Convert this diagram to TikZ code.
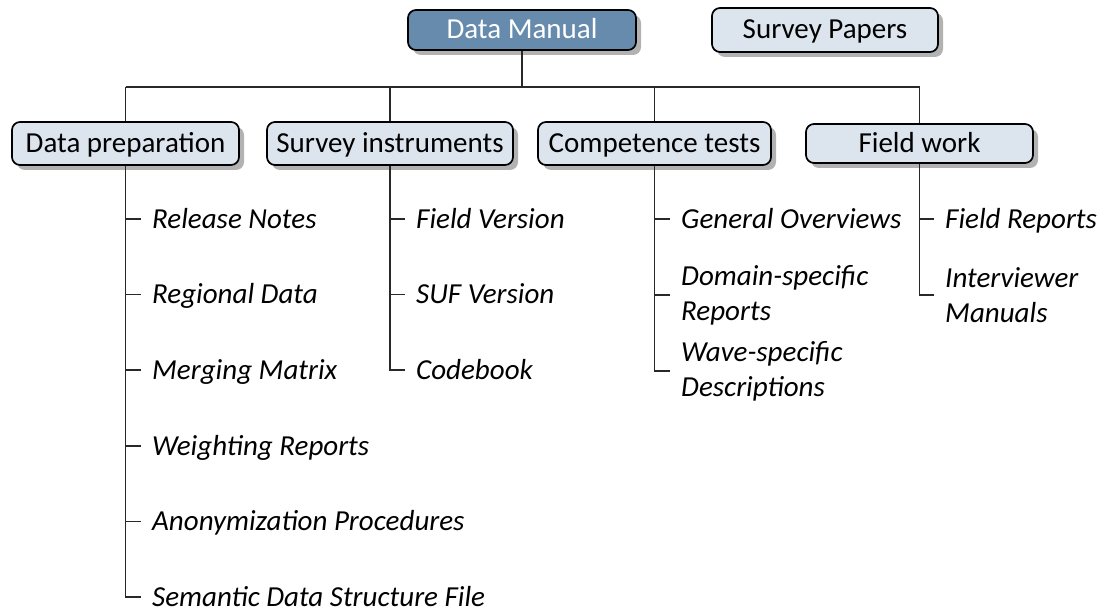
\documentclass[tikz,border=0pt]{standalone}
\usepackage{fontspec}
\setmainfont{Carlito}
\usetikzlibrary{shadows}
\definecolor{boxfill}{RGB}{220,228,238}
\definecolor{topfill}{RGB}{102,139,172}
\definecolor{linec}{RGB}{40,40,40}
\tikzset{
  box/.style={draw=black, line width=1.7pt, rounded corners=8pt, fill=boxfill,
    font=\fontsize{29}{34}\selectfont, text=black, inner sep=0pt,
    text height=19pt, text depth=1pt,
    drop shadow={shadow xshift=5pt, shadow yshift=-5pt, fill=black, opacity=0.3}},
  topbox/.style={box, fill=topfill, text=white},
  item/.style={anchor=west, inner sep=0pt, font=\fontsize{29}{35}\selectfont\itshape,
    text height=18.3pt, text depth=0pt},
  item2/.style={anchor=west, inner sep=0pt, align=left,
    font=\fontsize{29}{35}\selectfont\itshape},
  conn/.style={draw=linec, line width=1.3pt},
}
\begin{document}
\begin{tikzpicture}[x=1pt, y=-1pt]
\useasboundingbox (0,0) rectangle (1102,612);
% top boxes
\node[topbox, minimum width=228pt, minimum height=40pt] (dm) at (522,30) {Data Manual};
\node[box, minimum width=226pt, minimum height=44pt] (sp) at (825,30) {Survey Papers};
% second level
\node[box, minimum width=227pt, minimum height=43pt] (dp) at (125.5,143.5) {Data preparation};
\node[box, minimum width=246pt, minimum height=43pt] (si) at (390,143.5) {Survey instruments};
\node[box, minimum width=233pt, minimum height=43pt] (ct) at (654.5,143.5) {Competence tests};
\node[box, minimum width=227pt, minimum height=39pt] (fw) at (919.5,143.5) {Field work};
\coordinate (bus) at (0,87);
% bus connectors
\draw[conn] (dm.south) -- (dm.south |- bus);
\draw[conn] (dp.north |- bus) -- (fw.north |- bus);
\draw[conn] (dp.north |- bus) -- (dp.north);
\draw[conn] (si.north |- bus) -- (si.north);
\draw[conn] (ct.north |- bus) -- (ct.north);
\draw[conn] (fw.north |- bus) -- (fw.north);
% Data preparation items
\node[item] (dp1) at (152,219) {Release Notes};
\node[item] (dp2) at (152,294.5) {Regional Data};
\node[item] (dp3) at (152,370) {Merging Matrix};
\node[item] (dp4) at (152,446) {Weighting Reports};
\node[item] (dp5) at (152,521.5) {Anonymization Procedures};
\node[item] (dp6) at (152,597) {Semantic Data Structure File};
% Survey instruments items
\node[item] (si1) at (416,219) {Field Version};
\node[item] (si2) at (416,294.5) {SUF Version};
\node[item] (si3) at (416,370) {Codebook};
% Competence tests items
\node[item] (ct1) at (681,219) {General Overviews};
\node[item2] (ct2) at (681,295) {Domain-specific\\Reports};
\node[item2] (ct3) at (681,371) {Wave-specific\\Descriptions};
% Field work items
\node[item] (fw1) at (945,219) {Field Reports};
\node[item2] (fw2) at (945,295) {Interviewer\\Manuals};
% trunk lines
\draw[conn] (dp.south) |- ([xshift=-11pt]dp6.west);
\foreach \i in {1,...,5} \draw[conn] (dp.south |- dp\i.west) -- ([xshift=-11pt]dp\i.west);
\draw[conn] (si.south) |- ([xshift=-11pt]si3.west);
\foreach \i in {1,2} \draw[conn] (si.south |- si\i.west) -- ([xshift=-11pt]si\i.west);
\draw[conn] (ct.south) |- ([xshift=-11pt]ct3.west);
\foreach \i in {1,2} \draw[conn] (ct.south |- ct\i.west) -- ([xshift=-11pt]ct\i.west);
\draw[conn] (fw.south) |- ([xshift=-11pt]fw2.west);
\draw[conn] (fw.south |- fw1.west) -- ([xshift=-11pt]fw1.west);
\end{tikzpicture}
\end{document}
